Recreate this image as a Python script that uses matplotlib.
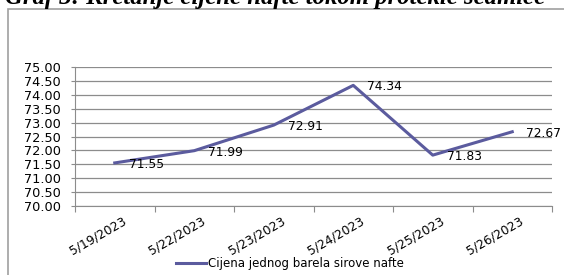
import matplotlib
matplotlib.use("Agg")
import matplotlib.pyplot as plt
from matplotlib.patches import Rectangle

dates = ["5/19/2023", "5/22/2023", "5/23/2023", "5/24/2023", "5/25/2023", "5/26/2023"]
prices = [71.55, 71.99, 72.91, 74.34, 71.83, 72.67]
yticks = [70.0 + 0.5 * i for i in range(11)]
series_name = "Cijena jednog barela sirove nafte"
title = "Graf 3: Kretanje cijene nafte tokom protekle sedmice"

W, H = 564, 275
fig = plt.figure(figsize=(W / 100, H / 100), dpi=100)
fig.patch.set_facecolor("white")

# outer frame
fig.patches.append(Rectangle((8 / W, -0.1), 1.2, (H - 9) / H + 0.1, transform=fig.transFigure,
                             fill=False, edgecolor="#a0a0a0", linewidth=1.2))

fig.text(5 / W, (H - 4) / H, title, fontsize=17.8, fontweight="bold", fontstyle="italic",
         family="Liberation Serif", va="baseline", ha="left")

ax = fig.add_axes([75 / W, (H - 206) / H, (552 - 75) / W, (206 - 67) / H])
x = list(range(len(dates)))
line, = ax.plot(x, prices, color="#5b5b9e", linewidth=2.2, label=series_name)
ax.set_xlim(-0.5, len(dates) - 0.5)
ax.set_ylim(70, 75)
ax.set_yticks(yticks)
ax.set_yticklabels([f"{v:.2f}" for v in yticks], fontsize=9.3, family="DejaVu Sans")
ax.yaxis.grid(True, color="#8c8c8c", linewidth=0.9)
ax.set_axisbelow(True)
ax.set_xticks([i - 0.5 for i in range(len(dates) + 1)], minor=False)
ax.set_xticklabels([])
ax.tick_params(axis="x", length=4, color="#8c8c8c", direction="out")
ax.tick_params(axis="y", length=3, color="#8c8c8c", direction="out", pad=7)
for i, d in enumerate(dates):
    ax.annotate(d, xy=(i, 70), xycoords="data", xytext=(5, -6), textcoords="offset points",
                rotation=30, ha="right", va="top", rotation_mode="anchor",
                fontsize=8.9, family="DejaVu Sans", annotation_clip=False)
for s in ["top", "right"]:
    ax.spines[s].set_visible(False)
for s in ["left", "bottom"]:
    ax.spines[s].set_color("#8c8c8c")

for i, v in enumerate(prices):
    ax.annotate(f"{v:.2f}", xy=(i, v), xytext=(10, -1), textcoords="offset points",
                ha="left", va="center", fontsize=8.8, family="DejaVu Sans",
                annotation_clip=False)

leg = fig.legend(handles=[line], loc="center", bbox_to_anchor=(290 / W, (H - 264) / H),
                 frameon=False, handlelength=2.5, handletextpad=0.2,
                 prop={"family": "DejaVu Sans", "size": 8.5})

fig.savefig("out.png", dpi=100)
